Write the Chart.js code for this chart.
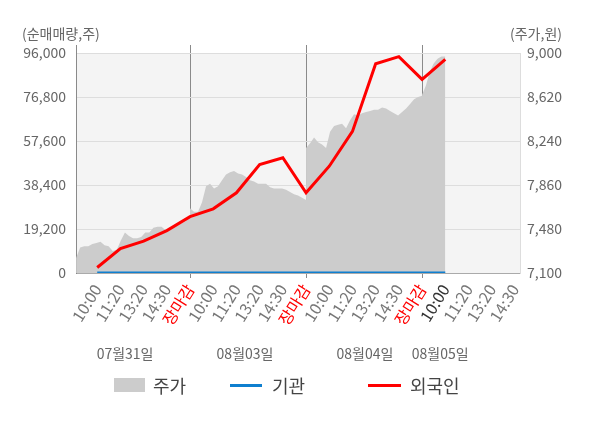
<!DOCTYPE html>
<html><head><meta charset="utf-8">
<script src="https://cdn.jsdelivr.net/npm/chart.js@4.4.1/dist/chart.umd.min.js"></script>
<style>
body{margin:0;background:#fff;}
#wrap{position:relative;width:600px;height:428px;font-family:"Noto Sans CJK KR","Noto Sans",sans-serif;}
#c{position:absolute;left:0;top:0;}
.lt{position:absolute;top:374px;height:22px;line-height:22px;font-size:18px;color:#444;white-space:nowrap;}
.lb{position:absolute;}
</style></head>
<body><div id="wrap"><canvas id="c" width="600" height="428"></canvas>
<div class="lb" style="left:114px;top:378px;width:31px;height:14px;background:#cccccc"></div>
<div class="lt" style="left:153px">주가</div>
<div class="lb" style="left:230px;top:384px;width:32px;height:3px;background:#0f7fcf"></div>
<div class="lt" style="left:272px">기관</div>
<div class="lb" style="left:368px;top:384px;width:33px;height:3px;background:#ff0000"></div>
<div class="lt" style="left:410px">외국인</div>
</div>
<script>
// ---- data ----
const xLabels = ['10:00','11:20','13:20','14:30','장마감',
                 '10:00','11:20','13:20','14:30','장마감',
                 '10:00','11:20','13:20','14:30','장마감',
                 '10:00','11:20','13:20','14:30'];
const dateLabels = ['07월31일','08월03일','08월04일','08월05일'];
const foreignNet = [2400,10700,13900,18500,24600,28000,35000,47300,50300,35000,46600,61800,91300,94400,84500,93200];
const instNet    = [0,0,0,0,0,0,0,0,0,0,0,0,0,0,0,0];
const priceDay1 = [7230,7320,7330,7330,7350,7360,7370,7340,7330,7290,7300,7380,7450,7420,7400,7400,7410,7450,7450,7490,7500,7500,7470,7490,7500,7510,7530,7550,7600];
const priceDay2 = [7660,7630,7630,7710,7850,7870,7830,7850,7900,7950,7970,7980,7960,7950,7930,7900,7890,7870,7870,7870,7840,7830,7830,7830,7820,7800,7780,7770,7750,7730];
const priceDay3 = [8180,8220,8270,8230,8210,8180,8320,8370,8380,8390,8350,8420,8470,8460,8480,8490,8500,8510,8510,8530,8520,8500,8480,8460,8490,8520,8560,8600,8620,8630];
const priceDay4 = [8640,8720,8840,8910,8950,8970,8970];
const leftTicks  = [0,19200,38400,57600,76800,96000];
const rightTicks = [7100,7480,7860,8240,8620,9000];
// session spans on the label axis (open .. close / now)
const sessions = [[-0.91,4],[4,9],[9,14],[14,15]];

// ---- build ----
const priceDays = [priceDay1,priceDay2,priceDay3,priceDay4];
const pricePts = [];
priceDays.forEach((arr,d)=>{
  const [a,b] = sessions[d];
  arr.forEach((v,i)=>pricePts.push({x:a+(b-a)*i/(arr.length-1), y:v}));
});
const foreignPts = foreignNet.map((v,i)=>({x:i,y:v}));
const instPts = instNet.map((v,i)=>({x:i,y:v}));
const FONT = '"Noto Sans CJK KR","Noto Sans",sans-serif';
const isClose = i => xLabels[i]==='장마감';
const nowIdx = foreignNet.length-1;

const deco = {
  id:'deco',
  beforeDraw(ch){
    const {ctx,chartArea:a} = ch;
    ctx.save();
    ctx.fillStyle='#f4f4f4';
    ctx.fillRect(a.left,a.top,a.right-a.left,a.bottom-a.top);
    ctx.restore();
  },
  afterDraw(ch){
    const {ctx,chartArea:a,scales} = ch;
    const xs = scales.x;
    ctx.save();
    ctx.strokeStyle='#8a8a8a'; ctx.lineWidth=1;
    const lines=[a.left];
    xLabels.forEach((l,i)=>{ if(isClose(i)) lines.push(xs.getPixelForValue(i)); });
    lines.forEach(px=>{ const p=Math.round(px)+0.5; ctx.beginPath(); ctx.moveTo(p,a.top-8); ctx.lineTo(p,a.top); ctx.stroke(); });
    ctx.fillStyle='#666'; ctx.font='14px '+FONT; ctx.textBaseline='middle';
    ctx.textAlign='left'; ctx.fillText('(순매매량,주)',22,34);
    ctx.textAlign='right'; ctx.fillText('(주가,원)',562,34);
    ctx.textAlign='center';
    const datePos=[1.2,6.37,11.54,14.78];
    dateLabels.forEach((t,i)=>ctx.fillText(t, xs.getPixelForValue(datePos[i]), 354));
    ctx.restore();
  }
};

new Chart(document.getElementById('c'),{
  type:'line',
  data:{datasets:[
    {label:'외국인',data:foreignPts,borderColor:'#ff0000',borderWidth:3,pointRadius:0,yAxisID:'y',order:1,fill:false,tension:0},
    {label:'기관',data:instPts,borderColor:'#0f7fcf',borderWidth:3,pointRadius:0,yAxisID:'y',order:2,fill:false},
    {label:'주가',data:pricePts,borderColor:'rgba(0,0,0,0)',borderWidth:0,backgroundColor:'#cccccc',pointRadius:0,yAxisID:'y1',order:3,fill:'start'}
  ]},
  options:{
    responsive:false,animation:false,devicePixelRatio:1,
    layout:{padding:{top:53,left:0,right:0,bottom:85}},
    plugins:{legend:{display:false},tooltip:{enabled:false}},
    scales:{
      x:{type:'linear',min:-0.914,max:18.22,
        afterBuildTicks:s=>{s.ticks=xLabels.map((l,i)=>({value:i}));},
        afterFit:s=>{s.height=70;},
        grid:{color:c=>(c.tick&&isClose(c.tick.value))?'#8a8a8a':'rgba(0,0,0,0)',tickLength:5,drawOnChartArea:true},
        border:{display:true,color:'#aaaaaa'},
        ticks:{autoSkip:false,minRotation:58,maxRotation:58,padding:3,font:{size:16,family:FONT},
          color:c=>isClose(c.index)?'#ff0000':(c.index===nowIdx?'#333333':'#777777'),
          callback:(v)=>xLabels[v]}},
      y:{position:'left',min:0,max:96000,
        afterBuildTicks:s=>{s.ticks=leftTicks.map(v=>({value:v}));},
        afterFit:s=>{s.width=76;},
        grid:{color:'#dddddd',drawTicks:false},
        border:{display:true,color:'#8a8a8a'},
        ticks:{padding:10,color:'#666',font:{size:14,family:FONT},callback:v=>v.toLocaleString('en-US')}},
      y1:{position:'right',min:7100,max:9000,
        afterBuildTicks:s=>{s.ticks=rightTicks.map(v=>({value:v}));},
        afterFit:s=>{s.width=80;},
        grid:{display:false,drawTicks:false},
        border:{display:true,color:'#dddddd'},
        ticks:{padding:7,color:'#666',font:{size:14,family:FONT},callback:v=>v.toLocaleString('en-US')}}
    }
  },
  plugins:[deco]
});
</script>
</body></html>
